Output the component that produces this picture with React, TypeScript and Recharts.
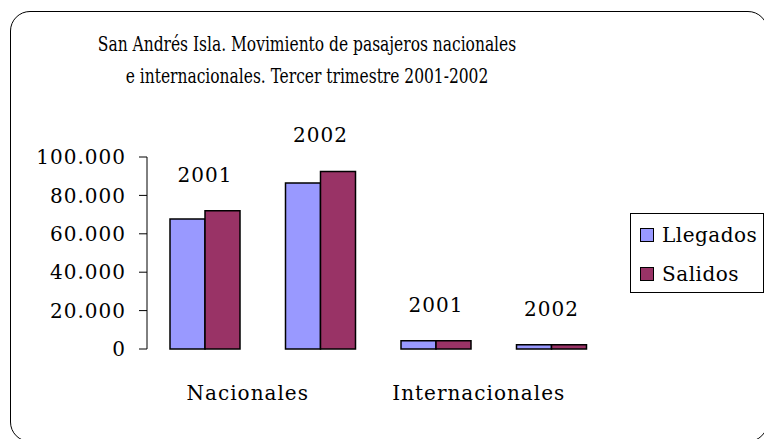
import { Bar, BarChart, LabelList, Legend, XAxis, YAxis } from "recharts";

const years = ["2001", "2002", "2001", "2002"];
const regions = ["Nacionales", "Nacionales", "Internacionales", "Internacionales"];
const llegados = [67700, 86500, 4300, 2200];
const salidos = [72000, 92500, 4300, 2200];
const yTicks = [0, 20000, 40000, 60000, 80000, 100000];

const data = years.map((year, i) => ({
  key: `${regions[i]}-${year}`,
  year,
  region: regions[i],
  llegados: llegados[i],
  salidos: salidos[i],
}));

const SERIF = "'DejaVu Serif', serif";
const fmt = (v: number) => v.toLocaleString("de-DE");

function RegionTick(props: any) {
  const { x, y, index } = props;
  if (index % 2 !== 0) return null;
  return (
    <text
      x={x + 43}
      y={y + 36}
      textAnchor="middle"
      dominantBaseline="central"
      fontFamily={SERIF}
      fontSize={20}
      letterSpacing={1}
      fill="#000"
    >
      {regions[index]}
    </text>
  );
}

function YearLabel(props: any) {
  const { x, y, value } = props;
  return (
    <text
      x={x}
      y={y - 36}
      textAnchor="middle"
      dominantBaseline="central"
      fontFamily={SERIF}
      fontSize={20}
      letterSpacing={1}
      fill="#000"
    >
      {value}
    </text>
  );
}

function LegendBox({ payload }: any) {
  return (
    <div
      style={{
        border: "1px solid #000",
        background: "#fff",
        width: 134,
        height: 80,
        boxSizing: "border-box",
        padding: "1px 0 0 9px",
      }}
    >
      {(payload || []).map((p: any) => (
        <div
          key={p.value}
          style={{ display: "flex", alignItems: "center", height: 39, fontFamily: SERIF, fontSize: 20, letterSpacing: 0.5 }}
        >
          <span
            style={{
              display: "inline-block",
              width: 14,
              height: 14,
              boxSizing: "border-box",
              background: p.color,
              border: "1.5px solid #000",
              marginRight: 8,
            }}
          />
          {p.value}
        </div>
      ))}
    </div>
  );
}

export default function App() {
  return (
    <div style={{ position: "absolute", left: 0, top: 0, width: 764, height: 439, background: "#fff", overflow: "hidden" }}>
      <div
        style={{
          position: "absolute",
          left: 10,
          top: 11,
          width: 758,
          height: 431,
          border: "1.5px solid #000",
          borderRadius: 20,
          boxSizing: "border-box",
        }}
      />
      <div
        style={{
          position: "absolute",
          left: 0,
          top: 28,
          width: 614,
          textAlign: "center",
          fontFamily: "'DejaVu Serif Condensed', 'DejaVu Serif', serif",
          fontStretch: "condensed",
          fontSize: 20,
          lineHeight: "32px",
          color: "#000",
          transform: "scaleX(0.86)",
          transformOrigin: "307px 0",
        }}
      >
        San Andrés Isla. Movimiento de pasajeros nacionales
        <br />
        e internacionales. Tercer trimestre 2001-2002
      </div>
      <div style={{ position: "absolute", left: 0, top: 0 }}>
        <BarChart
          width={764}
          height={439}
          data={data}
          margin={{ top: 157, right: 21, left: 0, bottom: 40 }}
          barCategoryGap={23}
          barGap={0}
        >
          <XAxis dataKey="key" axisLine={false} tickLine={false} height={50} tick={<RegionTick />} interval={0} />
          <YAxis
            width={147}
            domain={[0, 100000]}
            ticks={yTicks}
            interval={0}
            tickFormatter={fmt}
            axisLine={{ stroke: "#000" }}
            tickLine={{ stroke: "#000" }}
            tickSize={8}
            tickMargin={13}
            tick={{ fill: "#000", fontFamily: SERIF, fontSize: 20, letterSpacing: 1 }}
          />
          <Legend
            layout="vertical"
            align="right"
            verticalAlign="middle"
            content={<LegendBox />}
            wrapperStyle={{ position: "absolute", left: 630, top: 213, width: 134 }}
          />
          <Bar dataKey="llegados" name="Llegados" fill="#9999FF" stroke="#000" strokeWidth={1.5} isAnimationActive={false} />
          <Bar dataKey="salidos" name="Salidos" fill="#993366" stroke="#000" strokeWidth={1.5} isAnimationActive={false}>
            <LabelList dataKey="year" content={<YearLabel />} />
          </Bar>
        </BarChart>
      </div>
    </div>
  );
}
